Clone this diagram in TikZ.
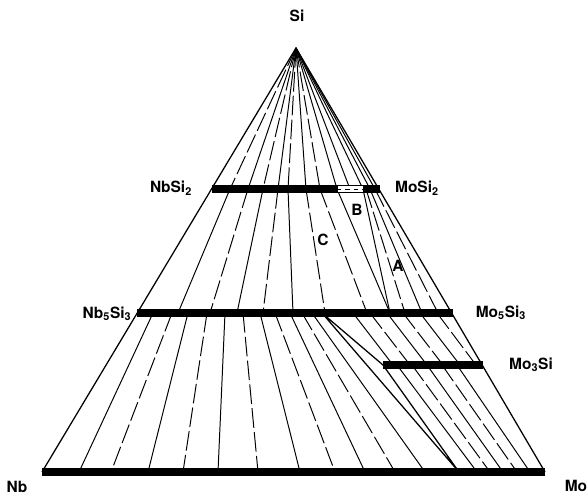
\documentclass[tikz,border=0pt]{standalone}
\usepackage{fontspec}
\setmainfont{TeX Gyre Heros}
\usetikzlibrary{calc}

\begin{document}
\begin{tikzpicture}[x=0.025cm, y=-0.025cm,
  edge/.style={line width=0.9pt},
  tie/.style={line width=0.7pt},
  tiedash/.style={line width=0.7pt, dash pattern=on 14pt off 3pt},
  phase/.style={line width=5pt},
  lbl/.style={font=\bfseries\fontsize{11}{13}\selectfont, inner sep=0pt}
]
\useasboundingbox (0,0) rectangle (587,494);

% corners of the triangle
\coordinate (Si) at (296,48);
\coordinate (Nb) at (42,472);
\coordinate (Mo) at (545,472);

% three-phase corners
\coordinate (tA) at (390,313);
\coordinate (tT) at (322,313);
\coordinate (tM) at (383,365);
\coordinate (tB) at (459,472);

% labels
\node[lbl] (siL) at (297,16) {Si};
\node[lbl] (nbsi2L) at (171,188) {NbSi\textsubscript{2}};
\node[lbl] (mosi2L) at (417,188) {MoSi\textsubscript{2}};
\node[lbl] (nb5L) at (107,314) {Nb\textsubscript{5}Si\textsubscript{3}};
\node[lbl] (mo5L) at (501,313) {Mo\textsubscript{5}Si\textsubscript{3}};
\node[lbl] (mo3L) at (531,365) {Mo\textsubscript{3}Si};
\node[lbl] (nbL) at (17,487) {Nb};
\node[lbl] (moL) at (576,486) {Mo};
\node[lbl] (regB) at (357,210) {B};
\node[lbl] (regC) at (323,240) {C};
\node[lbl] (regA) at (398,266) {A};

% fan from Si
\foreach \b/\s in {230/tiedash, 248/tie, 263/tiedash, 278/tie, 288/tiedash, 306/tie,
                   320/tiedash, 337/tie, 350/tie, 363/tie, 370/tie, 375/tie}
  \draw[\s] (Si) -- (\b,189);

% NbSi2 -- Nb5Si3
\foreach \a/\b/\s in {230/178/tie, 248/210/tiedash, 263/237/tie, 278/263/tiedash,
                      288/293/tie, 306/325/tiedash, 320/367/tiedash}
  \draw[\s] (\a,189) -- (\b,313);
\draw[tie] (337,189) -- (tA);
\draw[tie] (363,189) -- (tA);

% MoSi2 -- Mo5Si3
\foreach \a/\b/\s in {366/405/tiedash, 370/422/tie, 375/438/tiedash}
  \draw[\s] (\a,189) -- (\b,313);

% Nb5Si3 -- Nb
\foreach \a/\b/\s in {153/79/tie, 172/111/tiedash, 188/148/tie, 207/183/tiedash,
                      225/218/tie, 243/258/tiedash, 260/300/tie, 275/335/tiedash,
                      290/365/tie, 302/395/tiedash, 312/425/tie}
  \draw[\s] (\a,313) -- (\b,472);

% Mo5Si3 -- Mo3Si
\foreach \a/\b/\s in {353/393/tie, 370/410/tiedash, 387/427/tie, 403/443/tiedash,
                      420/460/tie, 437/476/tiedash}
  \draw[\s] (\a,313) -- (\b,365);

% Mo3Si -- Mo
\foreach \a/\b/\s in {397/477/tie, 412/490/tiedash, 427/503/tie, 442/517/tiedash,
                      457/530/tie}
  \draw[\s] (\a,365) -- (\b,472);

% three-phase triangle
\draw[edge] (tT) -- (tM) -- (tB) -- cycle;

% edges
\draw[edge] (Nb) -- (Si) -- (Mo);

% phase bars
\draw[phase] (212,189) -- (337,189);
\draw[phase] (363,189) -- (380,189);
\draw[tie, fill=white] (337,185.5) rectangle (363,192.5);
\draw[tie, dashed] (337,189) -- (363,189);
\draw[phase] (137,313) -- (453,313);
\draw[phase] (tM) -- (483,365);
\draw[phase] (Nb) -- (Mo);
\end{tikzpicture}
\end{document}
